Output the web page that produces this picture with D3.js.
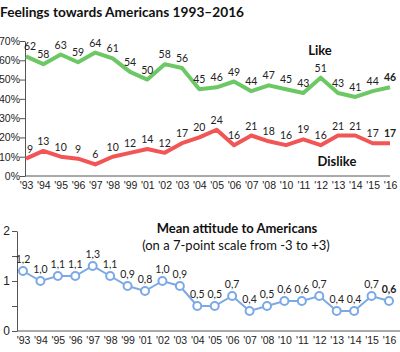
<!DOCTYPE html>
<html>
<head>
<meta charset="utf-8">
<script src="https://cdn.jsdelivr.net/npm/d3@7"></script>
<style>
  body { margin: 0; background: #fff; }
  svg { font-family: Lato, sans-serif; display: block; }
  .axis path, .axis line { stroke: #555; }
  .axis text { fill: #222; font-size: 10.5px; }
  .lbl { font-size: 10.5px; fill: #222; text-anchor: middle; }
</style>
</head>
<body>
<div id="container"></div>
<script>
/* DATA */
const years = ["'93","'94","'95","'96","'97","'98","'99","'01","'02","'03","'04","'05","'06","'07","'08","'10","'11","'12","'13","'14","'15","'16"];
const like = [62,58,63,59,64,61,54,50,58,56,45,46,49,44,47,45,43,51,43,41,44,46];
const dislike = [9,13,10,9,6,10,12,14,12,17,20,24,16,21,18,16,19,16,21,21,17,17];
const mean = [1.2,1.0,1.1,1.1,1.3,1.1,0.9,0.8,1.0,0.9,0.5,0.5,0.7,0.4,0.5,0.6,0.6,0.7,0.4,0.4,0.7,0.6];
const pctTicks = [0,10,20,30,40,50,60,70];
const meanTicks = [0,0.5,1,1.5,2];

const width = 400, height = 352;

const svg = d3.select("#container")
  .append("svg")
  .attr("width", width)
  .attr("height", height);

// title
svg.append("text")
  .attr("x", 0).attr("y", 17)
  .attr("font-size", 13.7).attr("font-weight", "bold").attr("fill", "#111")
  .text("Feelings towards Americans 1993–2016");

/* TOP CHART */
const x1 = d3.scalePoint().domain(years).range([26, 390]);
const y1 = d3.scaleLinear().domain([0, 70]).range([176, 41]);

svg.append("g")
  .attr("class", "axis")
  .attr("transform", "translate(25,0)")
  .call(d3.axisLeft(y1).tickValues(pctTicks).tickSize(5).tickSizeOuter(0).tickFormat(d => d + "%"))
  .call(g => g.selectAll("text").attr("x", -5).style("text-anchor", "end"));

svg.append("line")
  .attr("x1", 25).attr("x2", 390)
  .attr("y1", y1(0)).attr("y2", y1(0))
  .attr("stroke", "#555");

svg.append("g")
  .attr("class", "axis")
  .attr("transform", `translate(0,${y1(0) + 3})`)
  .call(d3.axisBottom(x1).tickSize(0))
  .call(g => g.select(".domain").remove());

const line1 = d3.line().x((d, i) => x1(years[i])).y(d => y1(d));

const series = [
  { values: like, color: "#6cc864", name: "Like", lx: 320, ly: 55 },
  { values: dislike, color: "#f25555", name: "Dislike", lx: 337, ly: 166 }
];

series.forEach(s => {
  svg.append("path")
    .datum(s.values)
    .attr("fill", "none")
    .attr("stroke", s.color)
    .attr("stroke-width", 4)
    .attr("stroke-linejoin", "round")
    .attr("d", line1);

  svg.selectAll(null)
    .data(s.values)
    .join("text")
    .attr("class", "lbl")
    .attr("x", (d, i) => x1(years[i]) + (i === 0 ? 4 : 0))
    .attr("y", d => y1(d) - 6)
    .attr("font-weight", (d, i) => i === s.values.length - 1 ? "bold" : null)
    .attr("font-size", (d, i) => i === s.values.length - 1 ? 12 : null)
    .text(d => d);

  svg.append("text")
    .attr("x", s.lx).attr("y", s.ly)
    .attr("text-anchor", "middle")
    .attr("font-size", 13).attr("font-weight", "bold").attr("fill", "#111")
    .text(s.name);
});

/* BOTTOM CHART */
const x2 = d3.scalePoint().domain(years).range([23, 389]);
const y2 = d3.scaleLinear().domain([0, 2]).range([331, 231]);

svg.append("g")
  .attr("class", "axis")
  .attr("transform", "translate(17,0)")
  .call(d3.axisLeft(y2).tickValues(meanTicks).tickSize(5).tickSizeOuter(0)
    .tickFormat(d => Number.isInteger(d) ? d : ""))
  .call(g => g.selectAll("text").attr("x", -7).style("font-size", "12px"));

svg.append("line")
  .attr("x1", 17).attr("x2", 400)
  .attr("y1", y2(0)).attr("y2", y2(0))
  .attr("stroke", "#555");

svg.append("g")
  .attr("class", "axis")
  .attr("transform", `translate(0,${y2(0) + 3})`)
  .call(d3.axisBottom(x2).tickSize(0))
  .call(g => g.select(".domain").remove());

const line2 = d3.line().x((d, i) => x2(years[i])).y(d => y2(d));
const blue = "#7ba9e6";

svg.append("path")
  .datum(mean)
  .attr("fill", "none")
  .attr("stroke", blue)
  .attr("stroke-width", 2)
  .attr("d", line2);

svg.selectAll(".dot")
  .data(mean)
  .join("circle")
  .attr("class", "dot")
  .attr("cx", (d, i) => x2(years[i]))
  .attr("cy", d => y2(d))
  .attr("r", 4)
  .attr("fill", "#fff")
  .attr("stroke", blue)
  .attr("stroke-width", 2);

const fmt = d => d3.format(".1f")(d).replace(".", ",");
svg.selectAll(".mlbl")
  .data(mean)
  .join("text")
  .attr("class", "lbl mlbl")
  .attr("x", (d, i) => x2(years[i]))
  .attr("y", d => y2(d) - 8)
  .attr("font-weight", (d, i) => i === mean.length - 1 ? "bold" : null)
  .attr("font-size", (d, i) => i === mean.length - 1 ? 12 : null)
  .text(fmt);

svg.append("text")
  .attr("x", 237).attr("y", 233)
  .attr("text-anchor", "middle")
  .attr("font-size", 13).attr("font-weight", "bold").attr("fill", "#111")
  .text("Mean attitude to Americans");

svg.append("text")
  .attr("x", 236).attr("y", 250)
  .attr("text-anchor", "middle")
  .attr("font-size", 13).attr("fill", "#111")
  .text("(on a 7-point scale from -3 to +3)");
</script>
</body>
</html>
